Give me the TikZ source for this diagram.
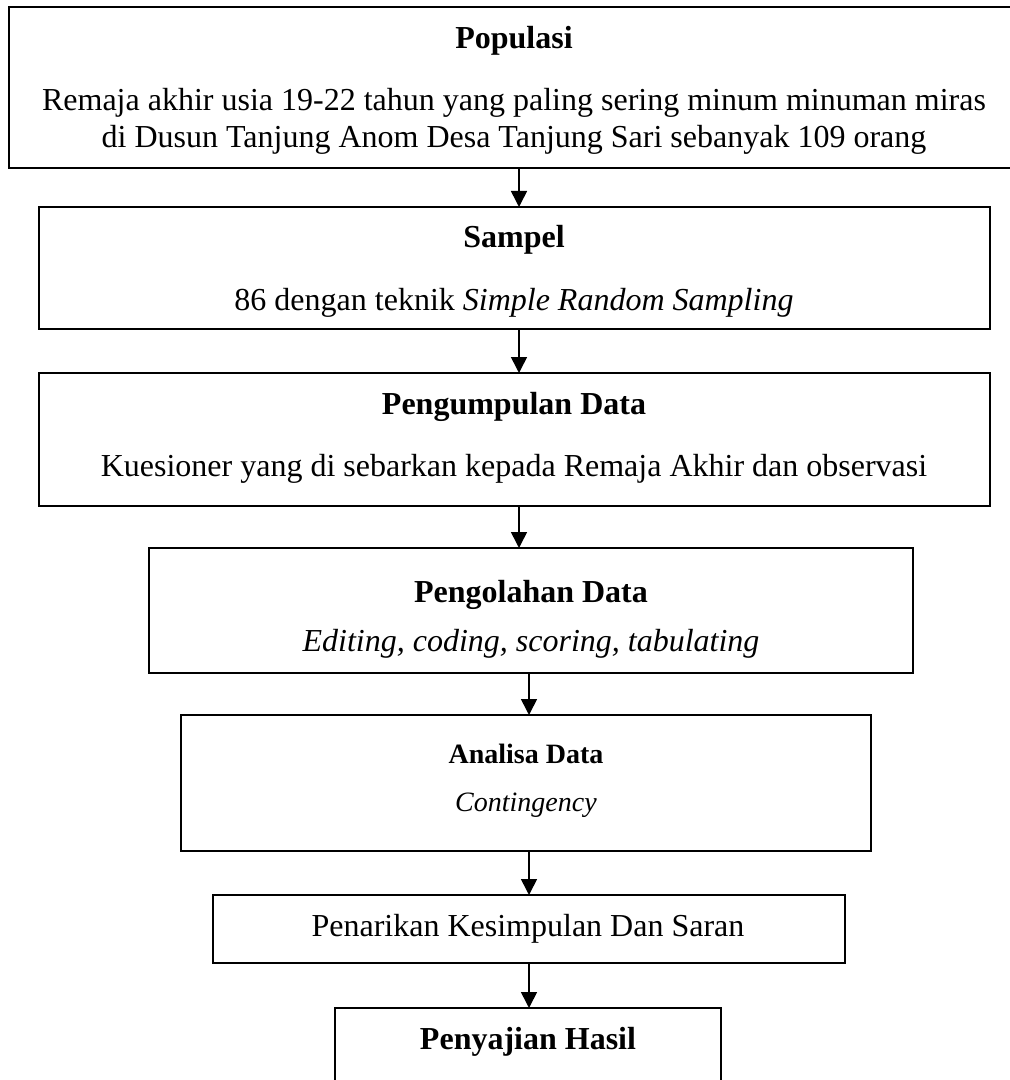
\documentclass[tikz,border=0pt]{standalone}
\usepackage{fontspec}
\setmainfont{Liberation Serif}
\usetikzlibrary{arrows.meta, positioning}

\begin{document}
\begin{tikzpicture}[x=0.5pt, y=-0.5pt, line join=miter, >={Triangle[length=8pt,width=8pt]}]

  % Styles
  \tikzset{
    box/.style={draw, line width=0.8pt, inner sep=0pt, outer sep=0pt},
    txt/.style={anchor=base, inner sep=0pt, font=\fontsize{16}{19}\selectfont},
    smalltxt/.style={anchor=base, inner sep=0pt, font=\fontsize{14}{17}\selectfont},
    arr/.style={->, line width=0.8pt}
  }

  \useasboundingbox (0,0) rectangle (1009,1080);

  % Columns of the arrows
  \coordinate (colA) at (519,0);
  \coordinate (colB) at (529,0);

  % Boxes
  \node[box, minimum width=503pt,   minimum height=80.5pt] (pop) at (512,87.5)  {};
  \node[box, minimum width=475.5pt, minimum height=61pt]   (sam) at (514.5,268) {};
  \node[box, minimum width=475.5pt, minimum height=66.5pt] (pgd) at (514.5,439.5) {};
  \node[box, minimum width=382pt,   minimum height=62.5pt] (pod) at (531,610.5) {};
  \node[box, minimum width=345pt,   minimum height=68pt]   (ana) at (526,783)   {};
  \node[box, minimum width=316pt,   minimum height=34pt]   (kes) at (529,929)   {};
  \node[box, minimum width=193pt,   minimum height=46pt]   (saj) at (528,1054)  {};

  % Texts
  \node[txt] (popT)  at (514,49)  {\textbf{Populasi}};
  \node[txt] (popL1) at (514,111) {Remaja akhir usia 19-22 tahun yang paling sering minum minuman miras};
  \node[txt] (popL2) at (514,148) {di Dusun Tanjung Anom Desa Tanjung Sari sebanyak 109 orang};

  \node[txt] (samT) at (514,248) {\textbf{Sampel}};
  \node[txt] (samL) at (514,311) {86 dengan teknik \textit{Simple Random Sampling}};

  \node[txt] (pgdT) at (514,414) {\textbf{Pengumpulan Data}};
  \node[txt] (pgdL) at (514,476) {Kuesioner yang di sebarkan kepada Remaja Akhir dan observasi};

  \node[txt] (podT) at (531,602) {\textbf{Pengolahan Data}};
  \node[txt] (podL) at (531,651) {\textit{Editing, coding, scoring, tabulating}};

  \node[smalltxt] (anaT) at (526,763) {\textbf{Analisa Data}};
  \node[smalltxt] (anaL) at (526,811) {\textit{Contingency}};

  \node[txt] (kesT) at (528,936)  {Penarikan Kesimpulan Dan Saran};

  \node[txt] (sajT) at (528,1049) {\textbf{Penyajian Hasil}};

  % Arrows
  \draw[arr] (pop.south -| colA) -- (sam.north -| colA);
  \draw[arr] (sam.south -| colA) -- (pgd.north -| colA);
  \draw[arr] (pgd.south -| colA) -- (pod.north -| colA);
  \draw[arr] (pod.south -| colB) -- (ana.north -| colB);
  \draw[arr] (ana.south -| colB) -- (kes.north -| colB);
  \draw[arr] (kes.south -| colB) -- (saj.north -| colB);

\end{tikzpicture}
\end{document}
